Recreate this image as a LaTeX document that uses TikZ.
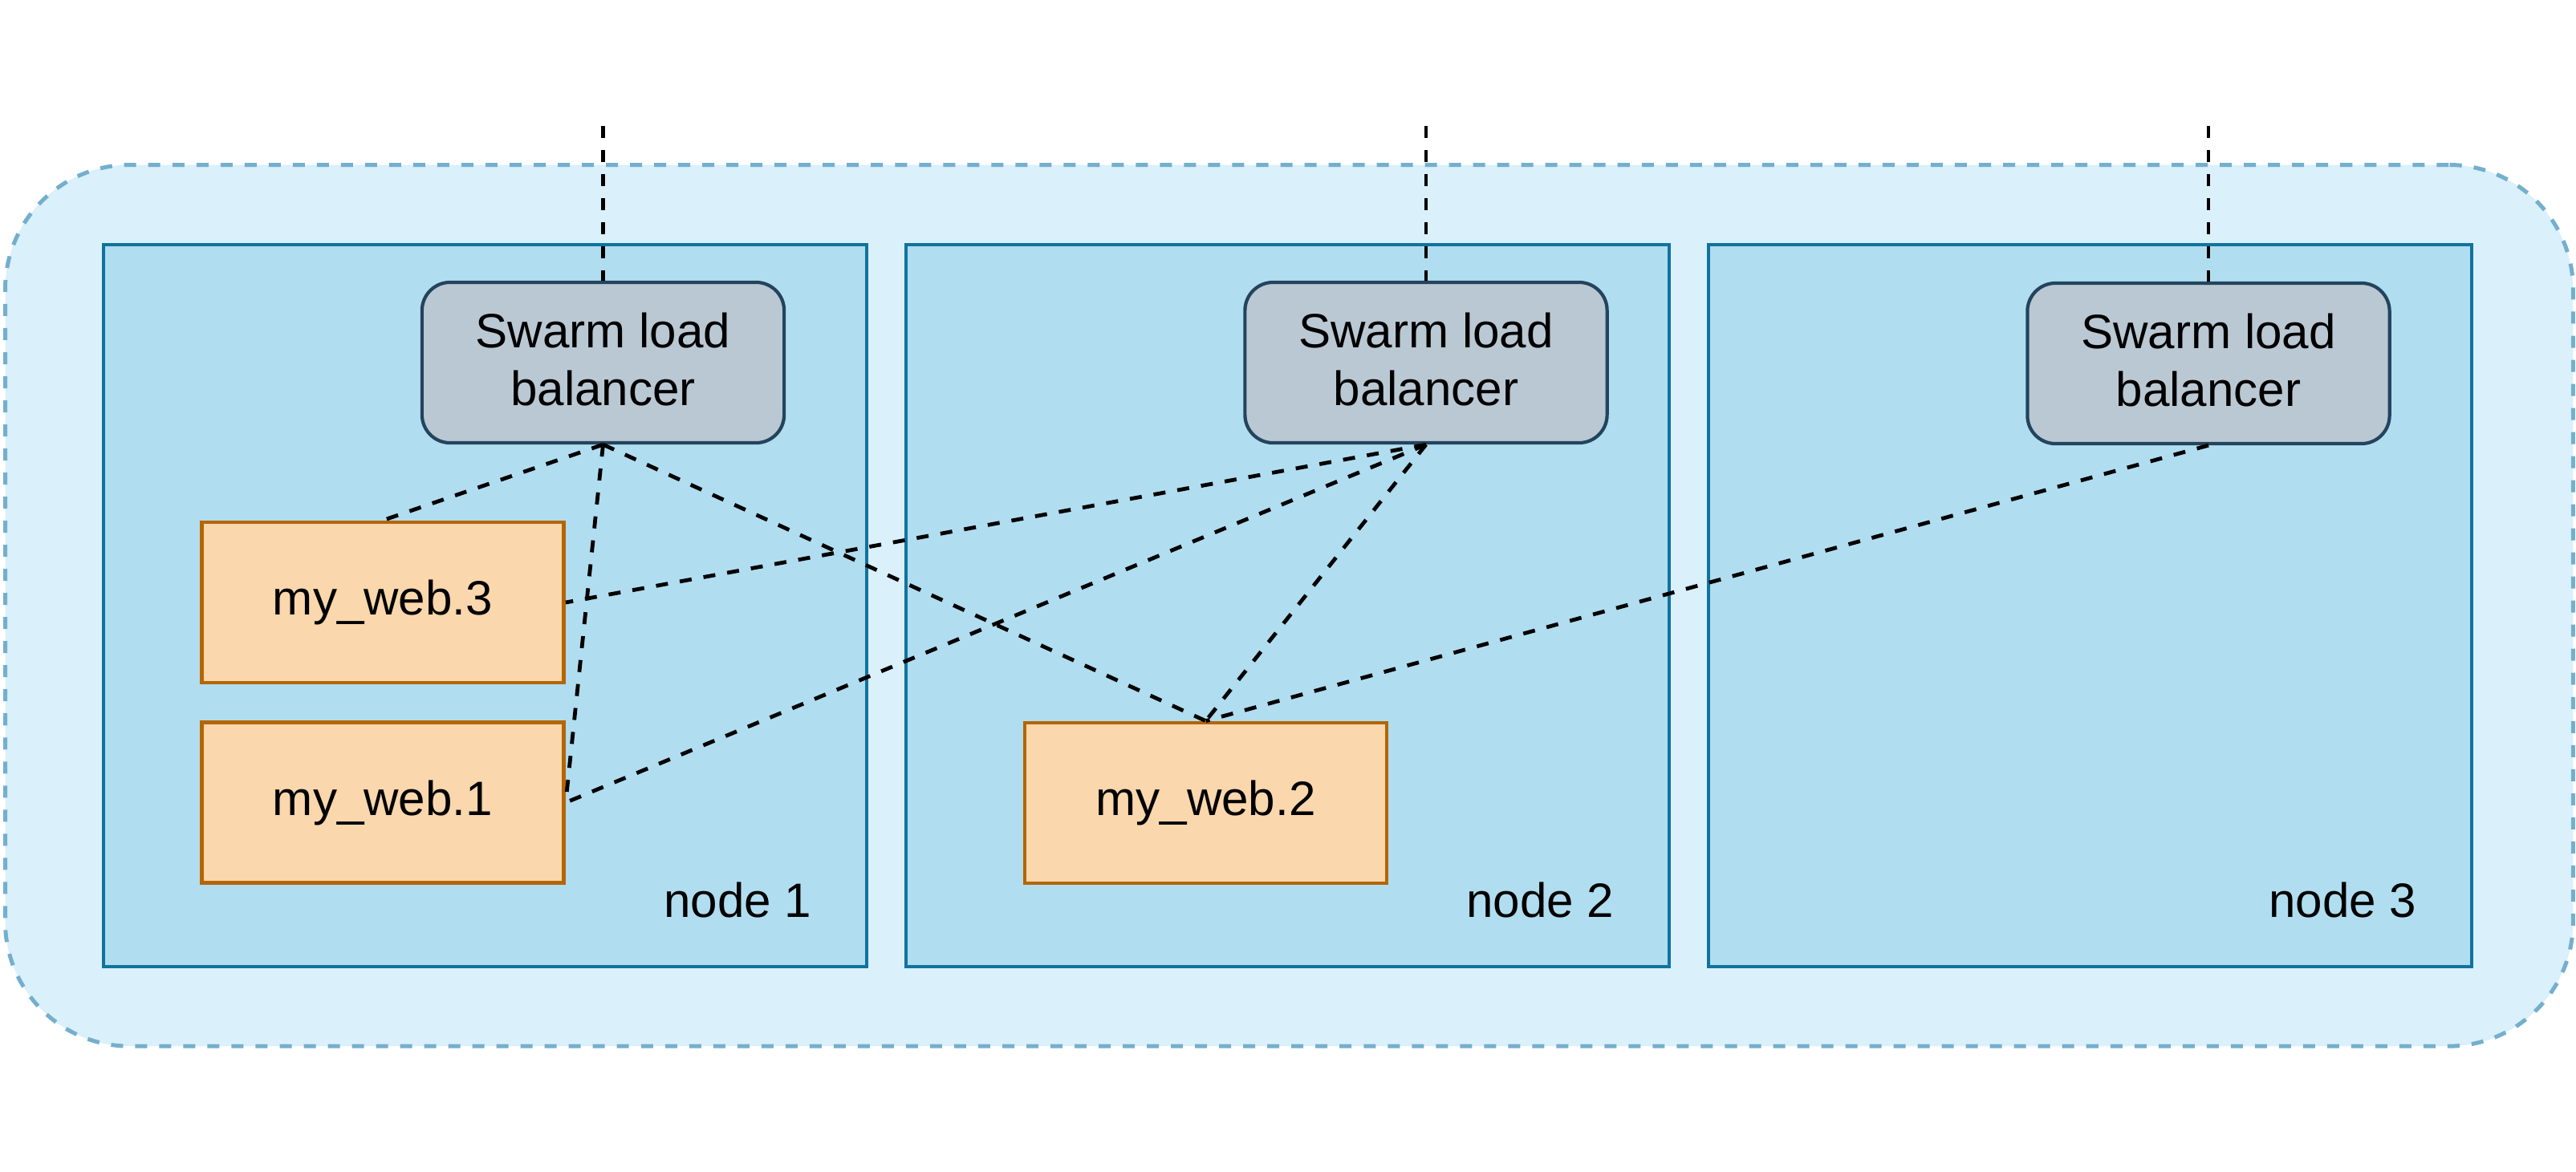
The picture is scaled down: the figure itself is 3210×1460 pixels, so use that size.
\documentclass[tikz,border=0pt]{standalone}
\usepackage{fontspec}
\setmainfont{Liberation Sans}
\definecolor{clusterfill}{HTML}{DAF0FB}
\definecolor{clusterstroke}{HTML}{74AFCD}
\definecolor{hostfill}{HTML}{B1DDF0}
\definecolor{hoststroke}{HTML}{10739E}
\definecolor{lbfill}{HTML}{BAC8D3}
\definecolor{lbstroke}{HTML}{23445D}
\definecolor{taskfill}{HTML}{FAD7AC}
\definecolor{taskstroke}{HTML}{B46504}
\begin{document}
\begin{tikzpicture}[x=0.01cm,y=-0.01cm,
  every node/.style={font=\fontsize{17.1pt}{20.5pt}\selectfont, inner sep=0pt},
  cluster/.style={draw=clusterstroke, fill=clusterfill, line width=0.05cm,
    dash pattern=on 0.15cm off 0.15cm, rounded corners=1.55cm,
    minimum width=31.98cm, minimum height=10.98cm, anchor=north west},
  hostbox/.style={draw=hoststroke, fill=hostfill, line width=0.042cm,
    minimum width=9.5cm, minimum height=8.99cm, anchor=north west},
  lbbox/.style={draw=lbstroke, fill=lbfill, line width=0.042cm, rounded corners=0.35cm,
    minimum width=4.51cm, minimum height=2.0cm, align=center},
  taskbox/.style={draw=taskstroke, fill=taskfill, line width=0.045cm,
    minimum width=4.51cm, minimum height=2.0cm},
  hostlabel/.style={anchor=base east},
  link/.style={draw=black, line width=0.048cm, dash pattern=on 0.15cm off 0.15cm}
]
\useasboundingbox (0,0) rectangle (3210,1460);

\node[cluster] (cluster) at (4,203) {};

\node[hostbox] (host1) at (127,303) {};
\node[hostbox] (host2) at (1127,303) {};
\node[hostbox] (host3) at (2127,303) {};

\node[hostlabel] (lbl1) at (1012,1143) {node 1};
\node[hostlabel] (lbl2) at (2012,1143) {node 2};
\node[hostlabel] (lbl3) at (3012,1143) {node 3};

\node[lbbox] (lb1) at (751.5,452) {Swarm load\\balancer\rule[-2.7pt]{0pt}{2.7pt}};
\node[lbbox] (lb2) at (1777,452) {Swarm load\\balancer\rule[-2.7pt]{0pt}{2.7pt}};
\node[lbbox] (lb3) at (2752,453) {Swarm load\\balancer\rule[-2.7pt]{0pt}{2.7pt}};

\node[taskbox] (web3) at (477,751) {my\_web.3};
\node[taskbox] (web1) at (477,1000.5) {my\_web.1};
\node[taskbox] (web2) at (1502.5,1001) {my\_web.2};

\coordinate (t1) at (751.5,157);
\coordinate (t2) at (1777,157);
\coordinate (t3) at (2752,157);

\draw[link] (t1) -- (lb1.north);
\draw[link] (t2) -- (lb2.north);
\draw[link] (t3) -- (lb3.north);

\draw[link] (lb1.south) -- (web3.north);
\draw[link] (lb1.south) -- (web1.east);
\draw[link] (lb1.south) -- (web2.north);
\draw[link] (lb2.south) -- (web3.east);
\draw[link] (lb2.south) -- (web1.east);
\draw[link] (lb2.south) -- (web2.north);
\draw[link] (lb3.south) -- (web2.north);
\end{tikzpicture}
\end{document}
